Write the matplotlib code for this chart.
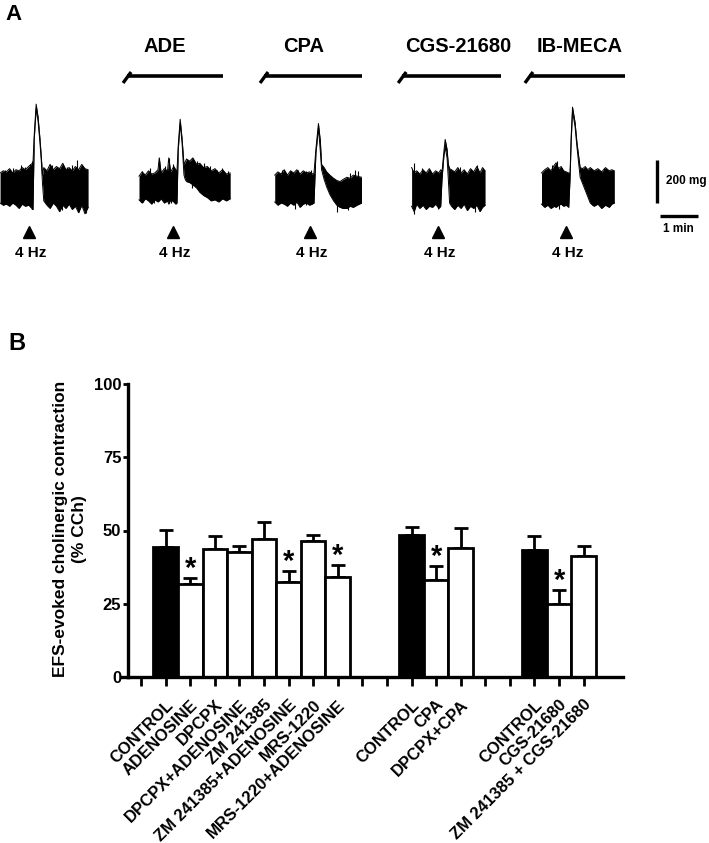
import numpy as np
import matplotlib.pyplot as plt

plt.rcParams['font.family'] = ['Liberation Sans', 'DejaVu Sans']
plt.rcParams['font.weight'] = 'bold'
plt.rcParams['axes.labelweight'] = 'bold'

W, H = 709, 843

# ---- panel B: EFS-evoked cholinergic contraction (% CCh), mean + SEM
group_labels = [
    ["CONTROL", "ADENOSINE", "DPCPX", "DPCPX+ADENOSINE", "ZM 241385",
     "ZM 241385+ADENOSINE", "MRS-1220", "MRS-1220+ADENOSINE"],
    ["CONTROL", "CPA", "DPCPX+CPA"],
    ["CONTROL", "CGS-21680", "ZM 241385 + CGS-21680"],
]
group_means = [
    [44.5, 31.7, 43.7, 42.8, 47.0, 32.5, 46.5, 34.2],
    [48.5, 33.0, 44.1],
    [43.2, 25.0, 41.3],
]
group_sems = [
    [5.7, 2.2, 4.5, 2.0, 5.8, 3.6, 2.0, 4.1],
    [2.8, 5.0, 6.9],
    [4.9, 4.8, 3.4],
]
group_signif = [
    [0, 1, 0, 0, 0, 1, 0, 1],
    [0, 1, 0],
    [0, 1, 0],
]
y_ticks = [0, 25, 50, 75, 100]

# ---- panel A: contraction traces, time (s) from the 4 Hz train, envelope (mg) from baseline
t1 = [-52, -47, -42, -37, -32, -27, -22, -17, -12, -7, -3, -1, 0, 2, 5, 8, 11, 13, 15, 17,
      22, 27, 32, 37, 42, 47, 52, 57, 62, 67, 72, 77, 82, 87]
hi1 = [70, 80, 75, 90, 70, 85, 80, 95, 85, 100, 110, 115, 120, 250, 390, 330, 230, 150, 60, 95,
       80, 110, 85, 100, 90, 115, 85, 95, 80, 100, 85, 110, 90, 85]
lo1 = [-70, -80, -75, -85, -70, -80, -95, -75, -85, -80, -90, -100, -100, 230, 370, 310, 210, 130, 20, -60,
       -80, -95, -70, -85, -110, -80, -95, -75, -100, -85, -115, -80, -120, -90]
sp1_t = [-47, -44, -31, -28, -19, -13, -5, -4, -1, 24, 30, 45, 45, 53, 61, 65, 70, 80, 84]
sp1_v = [-80, 85, 94, -72, 108, 100, 113, -88, 124, -80, 108, 94, -103, 100, 108, -88, 128, 85, -118]

t2 = [-60, -55, -50, -45, -40, -35, -30, -28, -25, -20, -15, -13, -10, -5, -2, 0, 2, 5, 8, 11,
      13, 15, 20, 25, 31, 36, 42, 48, 54, 60, 66, 72, 78, 84]
hi2 = [55, 75, 60, 80, 65, 70, 85, 140, 70, 90, 80, 140, 75, 100, 85, 80, 200, 320, 230, 110,
       120, 135, 125, 140, 110, 115, 95, 100, 80, 90, 70, 85, 65, 70]
lo2 = [-55, -70, -50, -60, -75, -55, -65, -60, -50, -70, -60, -75, -55, -65, -75, -70, 180, 300, 210, 60,
       40, 30, 25, 15, 0, -20, -35, -45, -60, -55, -65, -50, -60, -50]
sp2_t = [-56, -53, -43, -37, -28, -21, -19, -12, -10, -6, -3, 23, 31, 42, 52, 63, 71, 81]
sp2_v = [78, -63, 94, -70, 141, -55, 102, 141, -70, 110, -63, 133, 125, 117, 102, 86, 94, 78]

t3 = [-62, -57, -52, -47, -42, -37, -32, -27, -22, -17, -12, -7, -3, 0, 3, 7, 10, 12, 16, 20,
      25, 31, 36, 41, 46, 52, 57, 62, 68, 75]
hi3 = [60, 75, 65, 85, 60, 80, 70, 85, 65, 80, 70, 75, 65, 70, 180, 300, 220, 110, 95, 75,
       60, 45, 35, 30, 40, 50, 45, 60, 55, 50]
lo3 = [-65, -80, -70, -75, -85, -70, -80, -65, -90, -75, -70, -80, -75, -70, 160, 280, 170, 85, 40, 5,
       -30, -60, -80, -90, -95, -95, -85, -90, -80, -70]
sp3_t = [-59, -51, -43, -38, -30, -25, -12, -12, -4, 36, 54, 57, 65, 65, 70]
sp3_v = [-72, 85, -80, 77, -96, 85, 77, -80, 85, -111, -103, 69, 85, -86, 77]

t4 = [-48, -44, -40, -35, -30, -25, -20, -15, -10, -5, -2, 0, 3, 5, 8, 10, 12, 15, 20, 25,
      30, 35, 40, 45, 50, 55, 60, 64, 68]
hi4 = [95, 70, 80, 65, 85, 70, 90, 65, 80, 70, 85, 75, 170, 226, 180, 110, 90, 85, 75, 95,
       70, 85, 65, 90, 75, 100, 70, 95, 80]
lo4 = [-85, -110, -75, -95, -80, -100, -85, -90, -75, -95, -85, 40, 150, 190, 140, 40, -70, -85, -100, -80,
       -95, -75, -105, -85, -95, -80, -110, -90, -80]
sp4_t = [-45, -45, -32, -24, -19, -6, 23, 28, 39, 44, 52, 55]
sp4_v = [116, -119, 92, -86, 85, -96, -86, 100, -96, 85, -111, 108]

t5 = [-45, -40, -35, -30, -25, -22, -18, -14, -10, -6, -2, 0, 2, 4, 8, 11, 16, 20, 24, 28,
      32, 38, 44, 50, 56, 62, 66, 70]
hi5 = [70, 85, 95, 80, 105, 117, 90, 100, 80, 75, 70, 65, 250, 376, 305, 210, 95, 90, 100, 85,
       95, 80, 90, 75, 95, 80, 85, 80]
lo5 = [-75, -90, -80, -95, -85, -90, -80, -75, -85, -80, -90, 40, 230, 356, 285, 190, 50, 20, -10, -40,
       -70, -85, -75, -95, -80, -90, -75, -70]
sp5_t = [-39, -32, -29, -21, -18, -13, -8, -6, 24, 34, 39, 47, 53, 63, 66]
sp5_v = [85, -88, 108, 124, -96, 92, -80, 69, 92, -80, 85, -80, 92, -72, 85]

# agonist applied during traces 2-5 (s from the stimulus)
drug_names = ["ADE", "CPA", "CGS-21680", "IB-MECA"]
drug_start = [-82, -82, -66, -68]
drug_end = [73, 76, 93, 87]
stim_label = "4 Hz"
scale_mg = 200
scale_s = 60

fig = plt.figure(figsize=(W / 100, H / 100), dpi=100)


def fx(px):
    return px / W


def fy(py):
    return 1 - py / H


# ================= panel A =================
S = 60 / 38     # s per pixel
MG = 200 / 43   # mg per pixel
axa = fig.add_axes([0, fy(270), 1, 270 / H])
axa.set_xlim(0, W * S)
axa.set_ylim(0, 270 * MG)
axa.axis('off')


def xs(px):
    return px * S


def ym(py):
    return (270 - py) * MG


stim_px = [33, 177, 314, 442, 570]
base = ym(188)
traces = [(t1, hi1, lo1, sp1_t, sp1_v), (t2, hi2, lo2, sp2_t, sp2_v),
          (t3, hi3, lo3, sp3_t, sp3_v), (t4, hi4, lo4, sp4_t, sp4_v),
          (t5, hi5, lo5, sp5_t, sp5_v)]
for x0, (t, hi, lo, st, sv) in zip(stim_px, traces):
    t0 = xs(x0)
    tt = t0 + np.array(t, float)
    h = base + np.array(hi, float)
    l = base + np.array(lo, float)
    axa.fill_between(tt, l, h, color='k', lw=0)
    axa.plot(tt, h, color='k', lw=0.7)
    axa.plot(tt, l, color='k', lw=0.7)
    axa.vlines(t0 + np.array(st, float), base, base + np.array(sv, float), color='k', lw=0.8)
    axa.plot(xs(x0 - 4), ym(232), marker='^', color='k', ms=9, mec='k')
    axa.text(xs(x0 - 2), ym(253), stim_label, ha='center', va='center', fontsize=11)

label_dx = [-12, -10, 16, 10]
for i, name in enumerate(drug_names):
    t0 = xs(stim_px[i + 1])
    a = t0 + drug_start[i]
    b = t0 + drug_end[i]
    axa.plot([a + xs(2), b], [ym(76), ym(76)], color='k', lw=2.6, solid_capstyle='butt')
    axa.plot([a - xs(2), a + xs(6)], [ym(83), ym(72)], color='k', lw=2.4, solid_capstyle='butt')
    axa.text(t0 + xs(label_dx[i]), ym(46), name, ha='center', va='center', fontsize=14.5)

# scale bars
axa.plot([xs(657), xs(657)], [ym(203), ym(203) + scale_mg], color='k', lw=2.4, solid_capstyle='butt')
axa.plot([xs(660), xs(660) + scale_s], [ym(216), ym(216)], color='k', lw=2.4, solid_capstyle='butt')
axa.text(xs(666), ym(181), f"{scale_mg} mg", ha='left', va='center', fontsize=8.5)
axa.text(xs(678), ym(229), "1 min", ha='center', va='center', fontsize=8.5)

fig.text(fx(5), fy(14), "A", ha='left', va='center', fontsize=16)
fig.text(fx(8), fy(344), "B", ha='left', va='center', fontsize=17)

# ================= panel B =================
axb = fig.add_axes([fx(128), fy(677), (623 - 128) / W, (677 - 384) / H])

tick_labels = [""]
pos = 1
for g, names in enumerate(group_labels):
    n = len(names)
    x = np.arange(pos, pos + n)
    m = np.array(group_means[g])
    e = np.array(group_sems[g])
    colors = ['k' if nm == "CONTROL" else 'w' for nm in names]
    axb.bar(x, m, width=1.0, color=colors, edgecolor='k', linewidth=2.0, zorder=2)
    axb.errorbar(x, m, yerr=[np.zeros(n), e], fmt='none', ecolor='k',
                 elinewidth=2.0, capsize=4.7, capthick=2.0, zorder=1)
    for xi, mi, ei, s in zip(x, m, e, group_signif[g]):
        if s:
            axb.text(xi, mi + ei + 0.3, "*", ha='center', va='baseline', fontsize=21)
    tick_labels += names
    pos += n
    if g < len(group_labels) - 1:
        tick_labels += ["", ""]
        pos += 2

axb.set_xlim(-0.53, 19.6)
axb.set_ylim(0, 100)
axb.set_yticks(y_ticks)
axb.set_xticks(range(len(tick_labels)))
axb.set_xticklabels(tick_labels, rotation=45, ha='right', rotation_mode='anchor', fontsize=12)
axb.tick_params(axis='y', direction='out', length=3.8, width=2.0, labelsize=12, pad=1)
axb.tick_params(axis='x', direction='out', length=6.5, width=2.0, pad=8)
for sp in ['top', 'right']:
    axb.spines[sp].set_visible(False)
for sp in ['left', 'bottom']:
    axb.spines[sp].set_linewidth(2.4)
axb.plot([-0.012, 0], [0, 0], transform=axb.transAxes, color='k', lw=2.4, clip_on=False)
axb.set_ylabel("EFS-evoked cholinergic contraction\n(% CCh)", fontsize=12.5,
               fontweight='bold', linespacing=1.3)
axb.yaxis.set_label_coords(-0.083, 0.505)

fig.savefig("out.png", dpi=100)
